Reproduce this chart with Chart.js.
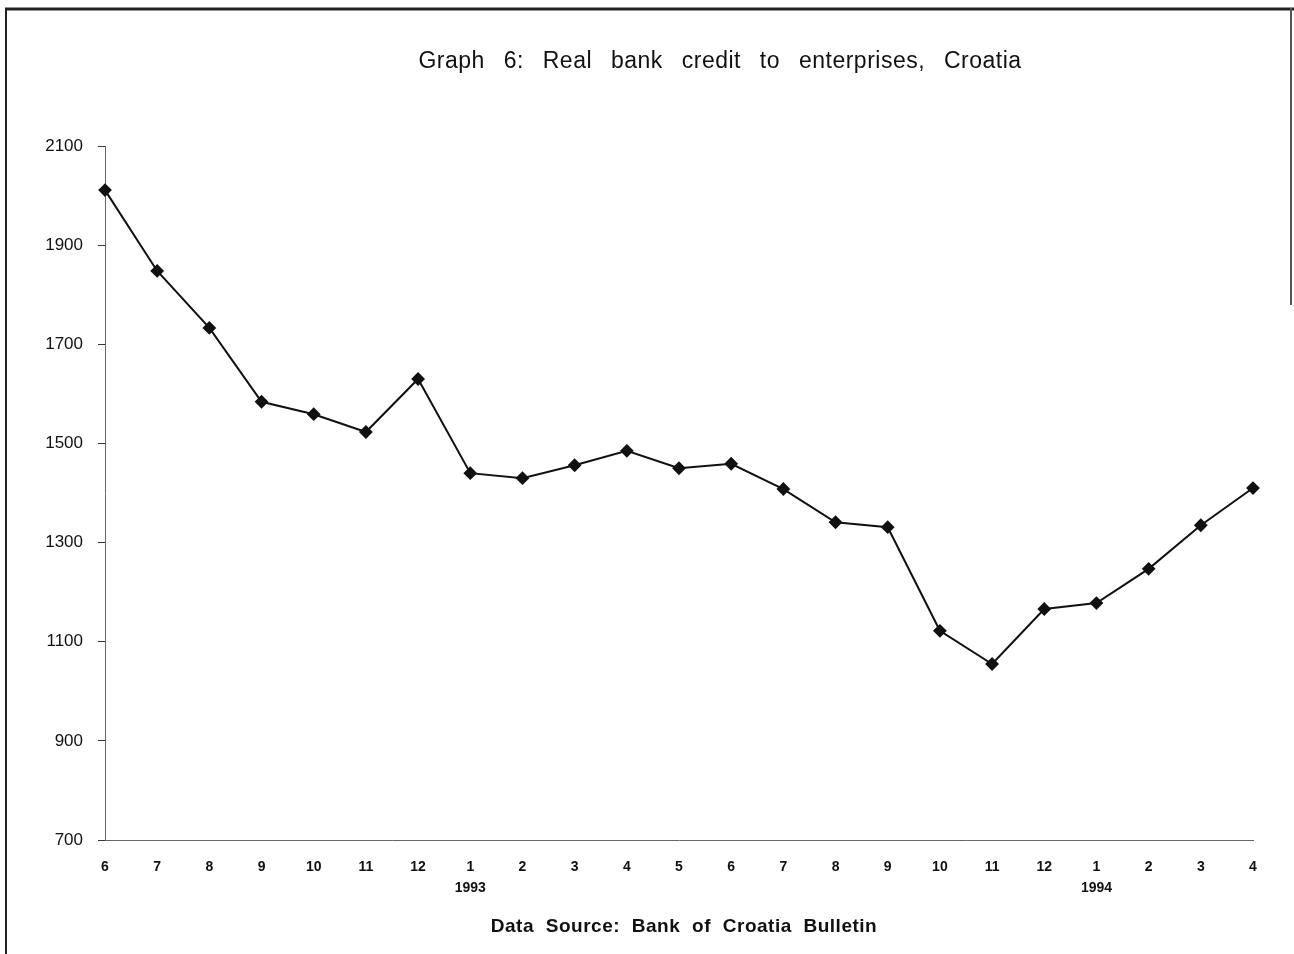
<!DOCTYPE html>
<html>
<head>
<meta charset="utf-8">
<script src="https://cdn.jsdelivr.net/npm/chart.js@4.4.1/dist/chart.umd.min.js"></script>
<style>
html,body{margin:0;padding:0;background:#fff;}
#wrap{width:1294px;height:954px;position:relative;}
</style>
</head>
<body>
<div id="wrap"><canvas id="c" width="1294" height="954"></canvas></div>
<script>
const monthLabels = ['6','7','8','9','10','11','12','1','2','3','4','5','6','7','8','9','10','11','12','1','2','3','4'];
const yearLabels = {7: '1993', 19: '1994'};
const creditValues = [2011,1848,1733,1584,1559,1523,1630,1440,1430,1456,1485,1450,1459,1408,1341,1331,1122,1055,1166,1178,1247,1335,1410];
const yTicks = [700,900,1100,1300,1500,1700,1900,2100];
const titleText = 'Graph 6: Real bank credit to enterprises, Croatia';
const sourceText = 'Data Source: Bank of Croatia Bulletin';

const labels = monthLabels.map((m,i) => yearLabels[i] ? [m, yearLabels[i]] : m);

const framePlugin = {
  id: 'frame',
  afterDraw(chart) {
    const ctx = chart.ctx;
    ctx.save();
    ctx.fillStyle = '#111';
    ctx.textBaseline = 'middle';
    ctx.textAlign = 'center';
    ctx.font = '23px "Liberation Sans", Arial, sans-serif';
    try { ctx.letterSpacing = '0.5px'; ctx.wordSpacing = '12px'; } catch(e) {}
    ctx.fillText(titleText, 720, 62);
    ctx.font = 'bold 19px "Liberation Sans", Arial, sans-serif';
    try { ctx.letterSpacing = '0.5px'; ctx.wordSpacing = '6px'; } catch(e) {}
    ctx.fillText(sourceText, 684, 927);
    try { ctx.letterSpacing = '0px'; ctx.wordSpacing = '0px'; } catch(e) {}
    ctx.strokeStyle = '#222';
    ctx.lineWidth = 3;
    ctx.beginPath();
    ctx.moveTo(5, 9); ctx.lineTo(1294, 9);
    ctx.stroke();
    ctx.lineWidth = 2;
    ctx.beginPath();
    ctx.moveTo(6, 8); ctx.lineTo(6, 954);
    ctx.stroke();
    ctx.strokeStyle = '#555';
    ctx.beginPath();
    ctx.moveTo(1291, 8); ctx.lineTo(1291, 305);
    ctx.stroke();
    ctx.restore();
  }
};

new Chart(document.getElementById('c'), {
  type: 'line',
  data: {
    labels: labels,
    datasets: [{
      data: creditValues,
      borderColor: '#111',
      backgroundColor: '#111',
      borderWidth: 2,
      pointStyle: 'rectRot',
      pointRadius: 5.5,
      pointBackgroundColor: '#111',
      pointBorderColor: '#111',
      tension: 0,
      fill: false
    }]
  },
  options: {
    responsive: false,
    animation: false,
    devicePixelRatio: 1,
    layout: { padding: { top: 146, right: 41, bottom: 0, left: 0 } },
    plugins: { legend: { display: false }, tooltip: { enabled: false }, title: { display: false } },
    scales: {
      x: {
        type: 'category',
        offset: false,
        grid: { display: false, drawTicks: false },
        border: { display: true, color: '#666', width: 1, dash: [2, 5] },
        ticks: {
          color: '#111',
          font: { family: '"Liberation Sans", Arial, sans-serif', size: 14, weight: 'bold', lineHeight: 1.5 },
          padding: 17,
          maxRotation: 0,
          autoSkip: false
        },
        afterFit(scale) { scale.height = 114; }
      },
      y: {
        min: 700,
        max: 2100,
        afterBuildTicks(scale) { scale.ticks = yTicks.map(v => ({ value: v })); },
        grid: { drawOnChartArea: false, drawTicks: true, tickLength: 7, color: '#333', tickColor: '#333' },
        border: { display: true, color: '#666', width: 1, dash: [2, 5] },
        ticks: {
          color: '#111',
          font: { family: '"Liberation Sans", Arial, sans-serif', size: 17 },
          padding: 15,
          callback: (v) => String(v)
        },
        afterFit(scale) { scale.width = 105; }
      }
    }
  },
  plugins: [framePlugin]
});
</script>
</body>
</html>
